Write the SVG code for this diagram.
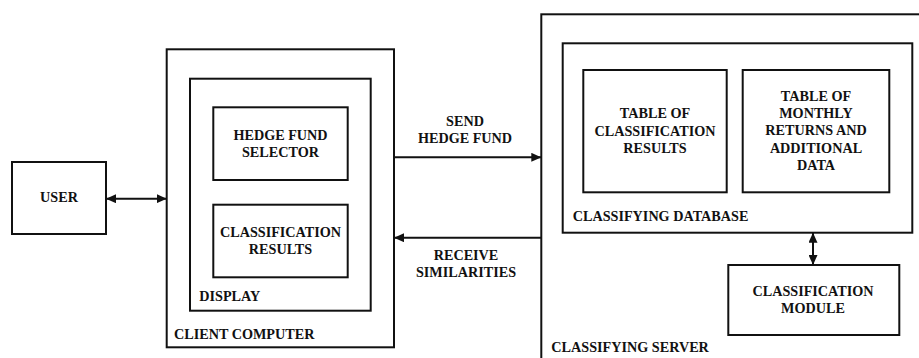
<svg xmlns="http://www.w3.org/2000/svg" width="919" height="358" viewBox="0 0 919 358" font-family="Liberation Serif, Times New Roman, serif" font-weight="bold" font-size="14.2">
<defs>
<style>
.box{fill:none;stroke:#111;stroke-width:2}
.conn{fill:none;stroke:#111;stroke-width:2}
.t{fill:#111}
.c{text-anchor:middle}
</style>
<marker id="arr" viewBox="0 0 10 9" refX="10" refY="4.5" markerWidth="10" markerHeight="9" markerUnits="userSpaceOnUse" orient="auto-start-reverse">
<path d="M0,0 L10,4.5 L0,9 z" fill="#111"/>
</marker>
</defs>
<rect width="919" height="358" fill="#fff"/>

<g id="server">
<rect class="box" x="541.3" y="14.3" width="500" height="400"/>
<text class="t" x="551.3" y="352.3">CLASSIFYING SERVER</text>
</g>

<g id="classifying-database">
<rect class="box" x="562.7" y="43.3" width="349.6" height="189.4"/>
<text class="t" x="572.7" y="221">CLASSIFYING DATABASE</text>
</g>

<g id="table-classification-results">
<rect class="box" x="583.3" y="70" width="143.4" height="122.3"/>
<text class="t c" x="655" y="118.3">TABLE OF</text>
<text class="t c" x="655" y="135.6">CLASSIFICATION</text>
<text class="t c" x="655" y="152.9">RESULTS</text>
</g>

<g id="table-monthly-returns">
<rect class="box" x="742.7" y="70" width="146.6" height="122.3"/>
<text class="t c" x="816" y="100.7">TABLE OF</text>
<text class="t c" x="816" y="118">MONTHLY</text>
<text class="t c" x="816" y="135.3">RETURNS AND</text>
<text class="t c" x="816" y="152.6">ADDITIONAL</text>
<text class="t c" x="816" y="169.9">DATA</text>
</g>

<g id="classification-module">
<rect class="box" x="728.3" y="265" width="171" height="70"/>
<text class="t c" x="813" y="296">CLASSIFICATION</text>
<text class="t c" x="813" y="313.3">MODULE</text>
</g>

<g id="user">
<rect class="box" x="12" y="162" width="94" height="72"/>
<text class="t c" x="59" y="202.3">USER</text>
</g>

<g id="client-computer">
<rect class="box" x="166.7" y="49.3" width="227.3" height="298"/>
<text class="t" x="174" y="338.7">CLIENT COMPUTER</text>
</g>

<g id="display">
<rect class="box" x="190" y="78.7" width="180.7" height="232"/>
<text class="t" x="199.3" y="300.7">DISPLAY</text>
</g>

<g id="hedge-fund-selector">
<rect class="box" x="213.3" y="107.3" width="134.4" height="72.7"/>
<text class="t c" x="280.5" y="140">HEDGE FUND</text>
<text class="t c" x="280.5" y="157.2">SELECTOR</text>
</g>

<g id="classification-results">
<rect class="box" x="213.3" y="204.7" width="134.4" height="72.6"/>
<text class="t c" x="280.5" y="237.3">CLASSIFICATION</text>
<text class="t c" x="280.5" y="254.4">RESULTS</text>
</g>

<g id="connectors">
<line class="conn" x1="106" y1="198.7" x2="166.7" y2="198.7" marker-start="url(#arr)" marker-end="url(#arr)"/>
<line class="conn" x1="394" y1="157.3" x2="541.3" y2="157.3" marker-end="url(#arr)"/>
<line class="conn" x1="541.3" y1="237.7" x2="394" y2="237.7" marker-end="url(#arr)"/>
<line class="conn" x1="813" y1="232.7" x2="813" y2="265" marker-start="url(#arr)" marker-end="url(#arr)"/>
<text class="t c" x="465" y="125.7">SEND</text>
<text class="t c" x="465" y="142.8">HEDGE FUND</text>
<text class="t c" x="466" y="260">RECEIVE</text>
<text class="t c" x="466" y="277.2">SIMILARITIES</text>
</g>
</svg>
